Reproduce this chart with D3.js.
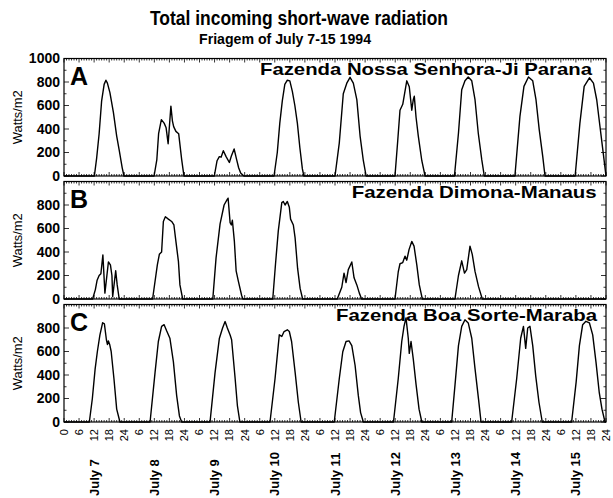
<!DOCTYPE html>
<html><head><meta charset="utf-8">
<script src="https://cdn.jsdelivr.net/npm/d3@7"></script>
<style>body{margin:0;background:#fff} svg{display:block}</style>
</head><body><svg id="c" width="613" height="498"></svg>
<script>
// ---------- data ----------
const titleText = "Total incoming short-wave radiation";
const subtitleText = "Friagem of July 7-15 1994";
const panelLetters = ["A", "B", "C"];
const panelNames = ["Fazenda Nossa Senhora-Ji Parana", "Fazenda Dimona-Manaus", "Fazenda Boa Sorte-Maraba"];
const dayLabels = ["July 7", "July 8", "July 9", "July 10", "July 11", "July 12", "July 13", "July 14", "July 15"];
const yLabel = "Watts/m2";
const yTicksA = [0, 200, 400, 600, 800, 1000];
const yTicksBC = [0, 200, 400, 600, 800];
const hourTickValues = [0,6,12,18,24,30,36,42,48,54,60,66,72,78,84,90,96,102,108,114,120,126,132,138,144,150,156,162,168,174,180,186,192,198,204,210,216];

// hours since 00 UTC July 7, and radiation (W/m2)
const hoursA = [0,12.1,13,14,15,16,16.7,17.3,18.3,19.7,21,22,23.2,23.9,
  35.9,37,37.7,38.8,39.9,40.7,41.5,42.6,43.2,43.7,44.6,45.7,46.9,47.8,
  59.9,61,61.9,62.6,63.5,64.6,65.9,66.7,67.8,68.8,69.6,70.4,71.7,
  83.7,85,86,87,88,89,90,91,92,93,94,95,95.6,
  108,109.7,111.3,112.7,114,115.3,116.7,118,119.3,120.4,
  131.9,133,133.9,135,136.6,137.6,138.6,139.2,139.6,140.3,141.2,142.6,143.9,
  155.6,157.2,158.5,159.8,161.1,162.5,163.8,165.1,166.5,167.5,
  179.7,181.7,183.3,185.1,186.8,188.1,189.4,190.8,191.7,
  203.7,205.6,207.3,209.4,211,212.3,213.6,214.9,216];
const wattsA = [0,0,150,360,640,780,815,790,710,540,340,220,70,0,
  0,140,360,480,450,410,275,595,470,420,380,360,140,0,
  0,130,165,160,215,165,115,170,230,140,70,25,0,
  0,200,450,640,780,815,810,720,600,450,240,60,0,
  0,280,700,790,840,790,650,340,130,0,
  0,300,560,610,810,760,560,650,680,500,340,130,0,
  0,364,734,810,843,810,649,364,137,0,
  0,507,763,843,810,649,393,165,0,
  0,450,763,836,791,649,421,194,0];

const hoursB = [0,11.4,12.5,13.2,14,14.7,15.5,16.3,17.7,18.5,19.1,19.4,20.6,21.2,22,
  35.3,37.2,38,38.9,39.6,40.4,41.6,42.9,43.8,44.6,45.6,46.2,47.3,
  59.3,60.6,62.2,63.8,65,65.4,66.2,66.7,67.1,67.9,68.6,69.5,70.8,71.3,
  83.2,84.3,85.4,86.8,87.4,88.1,89,89.8,90.3,91.4,92.1,93.1,94.1,95.1,
  108.9,110.7,111.6,112.4,113.3,114.7,115.6,116.7,117.7,118.6,
  131.9,133.2,133.9,135,135.9,136.6,137.5,138.6,139.5,140.6,141.6,142.8,
  155.8,157.2,158.5,159.6,160.5,161.8,162.7,163.8,165.2,166.7,
  216];
const wattsB = [0,0,80,160,200,215,375,50,315,290,200,20,240,120,0,
  0,290,380,400,660,700,680,660,630,490,320,120,0,
  0,350,640,800,845,858,650,630,670,490,240,150,30,0,
  0,300,580,820,830,800,830,780,680,630,520,260,90,0,
  0,100,220,140,250,315,180,120,50,0,
  0,230,300,310,365,330,420,490,450,290,120,0,
  0,200,325,220,250,450,380,235,105,0,
  0];

const hoursC = [0,10.1,11.3,12.4,13.3,14.3,15.4,16.1,16.9,17.3,17.7,18.2,18.8,19.9,21,22.3,
  34.3,36.3,37.6,38.9,39.9,40.9,42.2,43.6,44.9,46,46.9,
  58.2,60.2,61.9,63.2,64.2,65.1,66.2,66.8,68.2,69.1,70.1,
  82.1,84.1,85.8,86.8,87.7,89,89.8,90.7,92.1,93.4,94.5,
  107.7,109.7,111.1,112.4,113.6,114.7,116,117.3,118.2,119.3,
  131.3,133.2,134.6,135.5,136.3,137.2,137.6,138.3,139.2,140.3,141.5,142.6,
  154.5,155.8,157.2,158.5,159.8,161.1,162.5,163.8,165.2,166.2,
  178.4,180.4,182,183.1,184,184.8,185.7,186.8,188,189.3,190.6,
  202.3,204.1,205.4,206.7,208,209.4,210.7,212,213.3,214.4,215.6,216];
const wattsC = [0,0,200,450,600,740,845,835,700,660,690,660,600,370,110,0,
  0,425,685,814,828,776,713,512,224,52,0,
  0,420,710,800,855,800,740,700,370,140,0,
  0,368,742,728,770,785,770,685,425,166,0,
  0,368,598,685,690,650,483,224,80,0,
  0,368,685,814,886,713,584,685,535,320,109,0,
  0,310,650,814,870,843,713,454,195,0,
  0,368,713,814,627,800,814,650,391,166,0,
  0,339,650,828,857,843,742,512,253,109,0,0];

const panelHours = [hoursA, hoursB, hoursC];
const panelWatts = [wattsA, wattsB, wattsC];

// ---------- layout ----------
const FONT = "'Liberation Sans', Arial, Helvetica, sans-serif";
const svg = d3.select("#c").style("font-family", FONT);
const left = 64, right = 606;
const panelTops = [58.5, 181.5, 304.5];
const panelH = 117.5;

const x = d3.scaleLinear().domain([0, 216]).range([left, right]);

// titles
svg.append("text").attr("x", 150).attr("y", 25).attr("font-size", 20).attr("font-weight", "bold")
  .attr("textLength", 298).attr("lengthAdjust", "spacingAndGlyphs").text(titleText);
svg.append("text").attr("x", 199).attr("y", 44).attr("font-size", 15).attr("font-weight", "bold")
  .attr("textLength", 172).attr("lengthAdjust", "spacingAndGlyphs").text(subtitleText);

const nameX = [260, 351.7, 336];
const nameW = [332, 245, 261];

panelTops.forEach((top, i) => {
  const y = d3.scaleLinear().domain([0, 1000]).range([top + panelH, top]);
  const g = svg.append("g");
  const minorX = d3.range(0, 217, 1);
  const minorY = d3.range(0, 1001, 100);

  // hourly minor ticks top & bottom
  const tickG = g.append("g").attr("stroke", "#000").attr("stroke-width", 0.8);
  tickG.selectAll("line.tb").data(minorX).join("line")
    .attr("x1", d => x(d)).attr("x2", d => x(d))
    .attr("y1", y(1000)).attr("y2", d => y(1000) + (d % 6 === 0 ? 4 : 2));
  tickG.selectAll("line.bb").data(minorX).join("line").attr("class", "bb")
    .attr("x1", d => x(d)).attr("x2", d => x(d))
    .attr("y1", y(0)).attr("y2", d => y(0) - (d % 6 === 0 ? 4 : 2));
  // y ticks left & right
  tickG.selectAll("line.yl").data(minorY).join("line").attr("class", "yl")
    .attr("x1", left).attr("x2", d => left + (d % 200 === 0 ? 5 : 2.5))
    .attr("y1", d => y(d)).attr("y2", d => y(d));
  tickG.selectAll("line.yr").data(minorY).join("line").attr("class", "yr")
    .attr("x1", right).attr("x2", d => right - (d % 200 === 0 ? 5 : 2.5))
    .attr("y1", d => y(d)).attr("y2", d => y(d));

  // frame
  g.append("rect").attr("x", left).attr("y", top).attr("width", right - left).attr("height", panelH)
    .attr("fill", "none").attr("stroke", "#000").attr("stroke-width", 1.2);

  // y tick labels
  const yt = i === 0 ? yTicksA : yTicksBC;
  g.selectAll("text.yt").data(yt).join("text").attr("class", "yt")
    .attr("x", 60).attr("y", d => y(d)).attr("dy", "0.35em")
    .attr("text-anchor", "end").attr("font-size", 14).attr("font-weight", "bold").text(d => d);

  // y label
  g.append("text").attr("transform", `translate(22,${top + panelH / 2}) rotate(-90)`)
    .attr("text-anchor", "middle").attr("font-size", 12)
    .attr("textLength", 54).attr("lengthAdjust", "spacingAndGlyphs").text(yLabel);

  // data line
  const pts = panelHours[i].map((h, k) => [h, panelWatts[i][k]]);
  g.append("path").datum(pts)
    .attr("fill", "none").attr("stroke", "#000").attr("stroke-width", 1.4).attr("stroke-linejoin", "round")
    .attr("d", d3.line().x(d => x(d[0])).y(d => y(d[1])));

  // panel letter
  g.append("text").attr("x", 70).attr("y", top + 26.8).attr("font-size", 25).attr("font-weight", "bold")
    .text(panelLetters[i]);
  // panel name
  g.append("text").attr("x", nameX[i]).attr("y", top + 16.3).attr("font-size", 17).attr("font-weight", "bold")
    .attr("textLength", nameW[i]).attr("lengthAdjust", "spacingAndGlyphs").text(panelNames[i]);
});

// x hour labels
svg.append("g").selectAll("text").data(hourTickValues).join("text")
  .attr("transform", d => `translate(${x(d)},429) rotate(-90)`)
  .attr("dy", "0.35em").attr("text-anchor", "end").attr("font-size", 11)
  .text(d => d === 0 ? 0 : (d % 24 === 0 ? 24 : d % 24));

// day labels (at noon of each day)
svg.append("g").selectAll("text").data(dayLabels).join("text")
  .attr("transform", (d, k) => `translate(${x(k * 24 + 12)},496) rotate(-90)`)
  .attr("dy", "0.35em").attr("text-anchor", "start").attr("font-size", 13).attr("font-weight", "bold")
  .text(d => d);
</script>
</body></html>
